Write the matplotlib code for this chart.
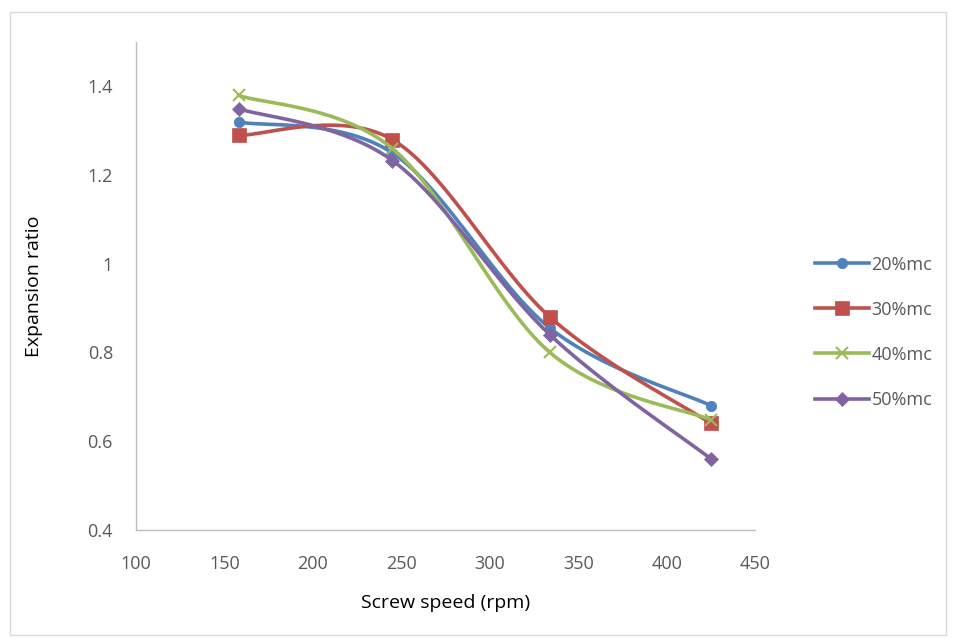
import numpy as np
import matplotlib.pyplot as plt
from matplotlib.patches import Rectangle

speed = [158, 245, 334, 425]
mc_20 = [1.32, 1.25, 0.855, 0.68]
mc_30 = [1.29, 1.28, 0.88, 0.64]
mc_40 = [1.38, 1.26, 0.80, 0.648]
mc_50 = [1.35, 1.233, 0.84, 0.56]
labels = ["20%mc", "30%mc", "40%mc", "50%mc"]


def smooth(x, y, n=40):
    # Catmull-Rom style bezier, like Excel's smoothed line
    x = np.asarray(x, float)
    y = np.asarray(y, float)
    px = np.concatenate([[x[0]], x, [x[-1]]])
    py = np.concatenate([[y[0]], y, [y[-1]]])
    xs, ys = [], []
    t = np.linspace(0, 1, n)
    for i in range(1, len(px) - 2):
        p0 = np.array([px[i], py[i]])
        p3 = np.array([px[i + 1], py[i + 1]])
        p1 = p0 + (np.array([px[i + 1], py[i + 1]]) - np.array([px[i - 1], py[i - 1]])) / 6
        p2 = p3 - (np.array([px[i + 2], py[i + 2]]) - np.array([px[i], py[i]])) / 6
        b = ((1 - t) ** 3)[:, None] * p0 + (3 * (1 - t) ** 2 * t)[:, None] * p1 \
            + (3 * (1 - t) * t ** 2)[:, None] * p2 + (t ** 3)[:, None] * p3
        xs.extend(b[:, 0])
        ys.extend(b[:, 1])
    return xs, ys


plt.rcParams['font.family'] = ['Open Sans', 'DejaVu Sans']

fig = plt.figure(figsize=(9.57, 6.39), dpi=100)
ax = fig.add_axes([0.142, 0.171, 0.647, 0.763])
fig.patches.append(Rectangle((10 / 957, 4 / 639), 936 / 957, 623 / 639,
                             transform=fig.transFigure, fill=False,
                             edgecolor='#d9d9d9', linewidth=1))

series = [mc_20, mc_30, mc_40, mc_50]
colors = ['#4f81bd', '#c0504d', '#9bbb59', '#8064a2']
markers = ['o', 's', 'x', 'D']
msizes = [7.5, 9.5, 9, 7.5]

for vals, c, m, ms, lab in zip(series, colors, markers, msizes, labels):
    sx, sy = smooth(speed, vals)
    ax.plot(sx, sy, color=c, linewidth=2.6, solid_capstyle='round')
    ax.plot(speed, vals, linestyle='none', marker=m, color=c, markersize=ms,
            markeredgewidth=1.5 if m == 'x' else 0.5)
    ax.plot([], [], color=c, linewidth=2.6, marker=m, markersize=ms,
            markeredgewidth=1.5 if m == 'x' else 0.5, label=lab)

ax.set_xlim(100, 450)
ax.set_ylim(0.4, 1.5)
ax.set_xticks(np.arange(100, 451, 50))
ax.set_yticks([0.4, 0.6, 0.8, 1.0, 1.2, 1.4])
ax.set_yticklabels(["0.4", "0.6", "0.8", "1", "1.2", "1.4"])
ax.tick_params(length=0, labelsize=13, colors='#595959')
ax.tick_params(axis='x', pad=18)
ax.tick_params(axis='y', pad=16.5)
for s in ['top', 'right']:
    ax.spines[s].set_visible(False)
for s in ['left', 'bottom']:
    ax.spines[s].set_color('#bfbfbf')
    ax.spines[s].set_linewidth(1)

ax.set_xlabel("Screw speed (rpm)", fontsize=14, color='black', labelpad=15)
ax.set_ylabel("Expansion ratio", fontsize=14, color='black', labelpad=32)

leg = ax.legend(loc='center left', bbox_to_anchor=(1.07, 0.405), frameon=False,
                fontsize=13, labelspacing=1.5, handlelength=3.0,
                handletextpad=0.15, numpoints=1)
for t in leg.get_texts():
    t.set_color('#595959')

fig.savefig("out.png", dpi=100)
